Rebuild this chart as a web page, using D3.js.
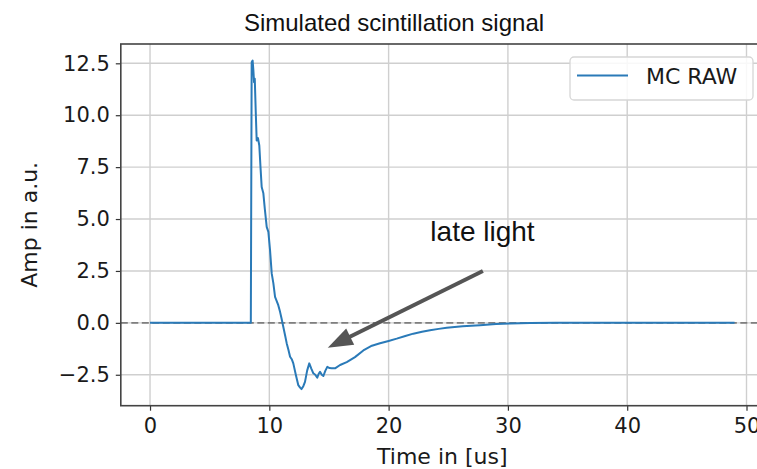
<!DOCTYPE html>
<html>
<head>
<meta charset="utf-8">
<script src="https://cdn.jsdelivr.net/npm/d3@7/dist/d3.min.js"></script>
<style>
  html, body { margin: 0; padding: 0; background: #ffffff; }
  svg { display: block; }
</style>
</head>
<body>
<svg id="chart" width="757" height="469"></svg>
<script>
// Simulated scintillation pulse: time in microseconds, amplitude in a.u.
const time = [
  0, 8.45, 8.52, 8.60, 8.66, 8.72, 8.78, 8.86, 8.94, 9.05,
  9.16, 9.26, 9.36, 9.50, 9.62, 9.78, 9.92, 10.06, 10.20, 10.34,
  10.48, 10.62, 10.75, 10.90, 11.03, 11.17, 11.32, 11.46, 11.60, 11.74,
  11.88, 12.01, 12.22, 12.43, 12.58, 12.70, 12.85, 12.99, 13.17, 13.35,
  13.52, 13.69, 13.85, 14.02, 14.14, 14.25, 14.40, 14.53, 14.70, 14.86,
  15.05, 15.23, 15.51, 15.93, 16.49, 17.18, 17.88, 18.6, 19.28, 20.0,
  20.68, 21.4, 22.07, 22.8, 23.47, 24.2, 24.87, 26.2, 27.66, 29.0,
  30.18, 31.85, 34, 37, 40, 43, 46, 49
];
const amp = [
  0, 0, 12.55, 12.63, 12.2, 11.59, 11.76, 10.2, 8.78, 8.9,
  8.54, 7.5, 6.54, 6.24, 5.5, 4.62, 4.38, 3.50, 2.38, 1.9,
  1.25, 1.05, 0.85, 0.53, 0.2, -0.19, -0.6, -0.99, -1.3, -1.63,
  -1.75, -1.95, -2.5, -3.0, -3.12, -3.19, -3.05, -2.84, -2.3, -1.95,
  -2.2, -2.43, -2.5, -2.64, -2.45, -2.36, -2.5, -2.56, -2.3, -2.12,
  -2.18, -2.19, -2.19, -2.03, -1.89, -1.65, -1.33, -1.1, -0.98, -0.87,
  -0.76, -0.63, -0.52, -0.43, -0.36, -0.29, -0.24, -0.16, -0.11, -0.06,
  -0.03, -0.01, 0, 0, 0, 0, 0, 0
];

const xTicks = [0, 10, 20, 30, 40, 50];
const yTicks = [-2.5, 0, 2.5, 5, 7.5, 10, 12.5];

const seriesName = "MC RAW";
const titleText = "Simulated scintillation signal";
const xLabel = "Time in [us]";
const yLabel = "Amp in a.u.";
const noteText = "late light";
// annotation arrow: text anchor, arrow tail, arrow tip (data coords)
const noteAt = [23.5, 3.93];
const arrowFrom = [27.9, 2.5];
const arrowTo = [14.9, -1.2];

const svg = d3.select("#chart");
svg.append("rect").attr("width", 757).attr("height", 469).attr("fill", "#fff");

const plotLeft = 120.8, plotRight = 763.8, plotTop = 44, plotBottom = 405.7;
const x = d3.scaleLinear().domain([-2.45, 51.45]).range([plotLeft, plotRight]);
const y = d3.scaleLinear().domain([-3.99, 13.43]).range([plotBottom, plotTop]);

const tickFont = "'DejaVu Sans', sans-serif";

// grid
const grid = svg.append("g");
grid.selectAll("line.vx").data(xTicks).join("line")
  .attr("x1", d => x(d)).attr("x2", d => x(d))
  .attr("y1", plotTop).attr("y2", plotBottom)
  .attr("stroke", "#cfcfcf").attr("stroke-width", 1.4);
grid.selectAll("line.hy").data(yTicks).join("line")
  .attr("x1", plotLeft).attr("x2", plotRight)
  .attr("y1", d => y(d)).attr("y2", d => y(d))
  .attr("stroke", "#cfcfcf").attr("stroke-width", 1.4);

// zero reference line
svg.append("line")
  .attr("x1", plotLeft).attr("x2", plotRight)
  .attr("y1", y(0)).attr("y2", y(0))
  .attr("stroke", "#7f7f7f").attr("stroke-width", 1.6)
  .attr("stroke-dasharray", "7,3.5");

// signal
const pts = time.map((t, i) => [t, amp[i]]);
svg.append("path")
  .datum(pts)
  .attr("fill", "none")
  .attr("stroke", "#2a7ab8")
  .attr("stroke-width", 2)
  .attr("stroke-linejoin", "round")
  .attr("d", d3.line().x(d => x(d[0])).y(d => y(d[1])));

// axes
const xAxis = svg.append("g").attr("transform", `translate(0,${plotBottom})`)
  .call(d3.axisBottom(x).tickValues(xTicks).tickFormat(d3.format("d")).tickSize(5).tickPadding(7));
const yAxis = svg.append("g").attr("transform", `translate(${plotLeft},0)`)
  .call(d3.axisLeft(y).tickValues(yTicks)
    .tickFormat(d => d < 0 ? "\u2212" + Math.abs(d).toFixed(1) : d.toFixed(1))
    .tickSize(5).tickPadding(6));
[xAxis, yAxis].forEach(g => {
  g.select(".domain").remove();
  g.selectAll(".tick line").attr("stroke", "#333").attr("stroke-width", 1.2);
  g.selectAll(".tick text").attr("fill", "#1a1a1a")
    .style("font-family", tickFont).style("font-size", "21px");
});

// spines
svg.append("rect")
  .attr("x", plotLeft).attr("y", plotTop)
  .attr("width", plotRight - plotLeft).attr("height", plotBottom - plotTop)
  .attr("fill", "none").attr("stroke", "#444").attr("stroke-width", 1.6);

// labels
svg.append("text")
  .attr("x", (plotLeft + plotRight) / 2).attr("y", 464)
  .attr("text-anchor", "middle")
  .style("font-family", tickFont).style("font-size", "22px").attr("fill", "#1a1a1a")
  .text(xLabel);
svg.append("text")
  .attr("transform", `translate(37,${(plotTop + plotBottom) / 2}) rotate(-90)`)
  .attr("text-anchor", "middle")
  .style("font-family", tickFont).style("font-size", "22px").attr("fill", "#1a1a1a")
  .text(yLabel);
svg.append("text")
  .attr("x", 394).attr("y", 31)
  .attr("text-anchor", "middle")
  .style("font-family", "'Liberation Sans', Arial, sans-serif").style("font-size", "24px").attr("fill", "#111")
  .text(titleText);

// annotation
const ax0 = x(arrowFrom[0]), ay0 = y(arrowFrom[1]);
const ax1 = x(arrowTo[0]), ay1 = y(arrowTo[1]);
const len = Math.hypot(ax1 - ax0, ay1 - ay0);
const ux = (ax1 - ax0) / len, uy = (ay1 - ay0) / len;
const headLen = 25, headHalf = 9;
const bx = ax1 - ux * headLen, by = ay1 - uy * headLen;
svg.append("line")
  .attr("x1", ax0).attr("y1", ay0).attr("x2", bx + ux * 2).attr("y2", by + uy * 2)
  .attr("stroke", "#555").attr("stroke-width", 4);
svg.append("path")
  .attr("d", `M${ax1},${ay1} L${bx - uy * headHalf},${by + ux * headHalf} L${bx + uy * headHalf},${by - ux * headHalf} Z`)
  .attr("fill", "#555");
svg.append("text")
  .attr("x", x(noteAt[0])).attr("y", y(noteAt[1]))
  .style("font-family", "'Liberation Sans', Arial, sans-serif").style("font-size", "28px").attr("fill", "#111")
  .text(noteText);

// legend
const lg = svg.append("g");
lg.append("rect")
  .attr("x", 570).attr("y", 57).attr("width", 183).attr("height", 43).attr("rx", 4)
  .attr("fill", "#fff").attr("fill-opacity", 0.85)
  .attr("stroke", "#d6d6d6").attr("stroke-width", 1.3);
lg.append("line")
  .attr("x1", 577).attr("x2", 628).attr("y1", 75.5).attr("y2", 75.5)
  .attr("stroke", "#2a7ab8").attr("stroke-width", 2);
lg.append("text")
  .attr("x", 646).attr("y", 84)
  .style("font-family", tickFont).style("font-size", "22px").attr("fill", "#1a1a1a")
  .text(seriesName);
</script>
</body>
</html>
